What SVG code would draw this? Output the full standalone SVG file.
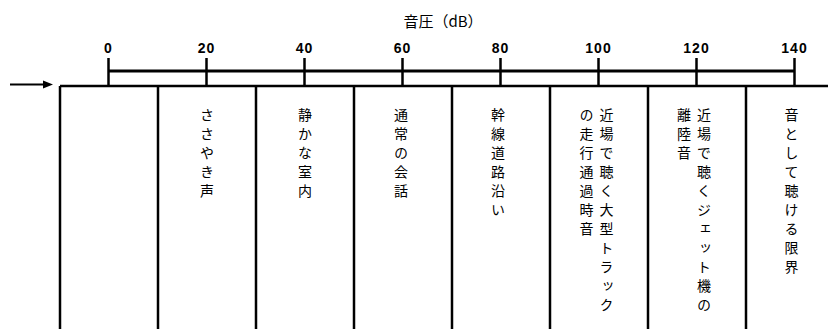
<svg xmlns="http://www.w3.org/2000/svg" width="828" height="329" viewBox="0 0 828 329">
<style>
.ln{stroke:#000;fill:none}
.tk{font-family:"Liberation Sans",Arial,sans-serif;font-weight:bold;font-size:14px;text-anchor:middle;letter-spacing:1px}
.vt{font-family:"Noto Sans CJK JP","Noto Sans",sans-serif;font-size:14px;writing-mode:vertical-rl;letter-spacing:5px}
.ti{font-family:"Noto Sans CJK JP","Noto Sans",sans-serif;font-size:15px;text-anchor:middle}
</style>
<rect width="828" height="329" fill="#fff"/>
<g id="axis">
<text class="ti" x="443" y="27">音圧（dB）</text>
<line class="ln" x1="108.5" y1="71" x2="794.5" y2="71" stroke-width="3"/>
<g class="ln" stroke-width="2.5">
<line x1="108.5" y1="58" x2="108.5" y2="86"/>
<line x1="206.5" y1="58" x2="206.5" y2="86"/>
<line x1="304.5" y1="58" x2="304.5" y2="86"/>
<line x1="402.5" y1="58" x2="402.5" y2="86"/>
<line x1="500.5" y1="58" x2="500.5" y2="86"/>
<line x1="598.5" y1="58" x2="598.5" y2="86"/>
<line x1="696.5" y1="58" x2="696.5" y2="86"/>
<line x1="794.5" y1="58" x2="794.5" y2="86"/>
</g>
<text class="tk" x="108.5" y="53">0</text>
<text class="tk" x="206.5" y="53">20</text>
<text class="tk" x="304.5" y="53">40</text>
<text class="tk" x="402.5" y="53">60</text>
<text class="tk" x="500.5" y="53">80</text>
<text class="tk" x="598.5" y="53">100</text>
<text class="tk" x="696.5" y="53">120</text>
<text class="tk" x="794.5" y="53">140</text>
</g>
<g id="table">
<line class="ln" x1="60" y1="86" x2="828" y2="86" stroke-width="2.5"/>
</g>
<g id="col1"><line class="ln" x1="60" y1="86" x2="60" y2="329" stroke-width="2.5"/></g>
<g id="col2"><line class="ln" x1="158" y1="86" x2="158" y2="329" stroke-width="2.5"/>
<text class="vt" x="207" y="108">ささやき声</text></g>
<g id="col3"><line class="ln" x1="256" y1="86" x2="256" y2="329" stroke-width="2.5"/>
<text class="vt" x="305" y="108">静かな室内</text></g>
<g id="col4"><line class="ln" x1="354" y1="86" x2="354" y2="329" stroke-width="2.5"/>
<text class="vt" x="401" y="108">通常の会話</text></g>
<g id="col5"><line class="ln" x1="452" y1="86" x2="452" y2="329" stroke-width="2.5"/>
<text class="vt" x="498" y="108">幹線道路沿い</text></g>
<g id="col6"><line class="ln" x1="550" y1="86" x2="550" y2="329" stroke-width="2.5"/>
<text class="vt" x="606.5" y="108">近場で聴く大型トラック</text>
<text class="vt" x="586.5" y="108">の走行通過時音</text></g>
<g id="col7"><line class="ln" x1="648" y1="86" x2="648" y2="329" stroke-width="2.5"/>
<text class="vt" x="704" y="108">近場で聴くジェット機の</text>
<text class="vt" x="684" y="108">離陸音</text></g>
<g id="col8"><line class="ln" x1="746" y1="86" x2="746" y2="329" stroke-width="2.5"/>
<text class="vt" x="791.5" y="108">音として聴ける限界</text></g>
<g id="connectors">
<line class="ln" x1="10" y1="84.5" x2="45" y2="84.5" stroke-width="2"/>
<polygon points="43,80.5 53,84.5 43,88.5" fill="#000"/>
</g>
</svg>
